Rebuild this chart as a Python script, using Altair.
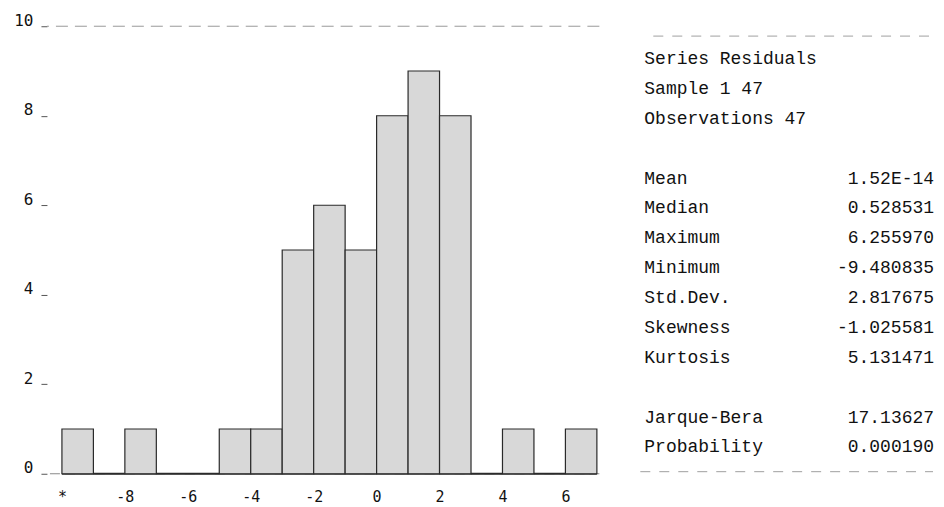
import altair as alt
import pandas as pd

# ---- data ----
bin_start = list(range(-10, 7))
counts = [1, 0, 1, 0, 0, 1, 1, 5, 6, 5, 8, 9, 8, 0, 1, 0, 1]
x_ticks = [-10, -8, -6, -4, -2, 0, 2, 4, 6]
y_ticks = [0, 2, 4, 6, 8, 10]

stat_labels = ["Series Residuals", "Sample 1 47", "Observations 47",
               "Mean", "Median", "Maximum", "Minimum", "Std.Dev.",
               "Skewness", "Kurtosis", "Jarque-Bera", "Probability"]
stat_values = ["", "", "", "1.52E-14", "0.528531", "6.255970", "-9.480835",
               "2.817675", "-1.025581", "5.131471", "17.13627", "0.000190"]
stat_rows = [0, 1, 2, 4, 5, 6, 7, 8, 9, 10, 12, 13]

hist = pd.DataFrame({"start": bin_start,
                     "end": [b + 1 for b in bin_start],
                     "count": counts,
                     "base": [0] * len(bin_start)})

AX_FONT = "DejaVu Sans Mono"
TXT_FONT = "Liberation Mono"

xscale = alt.Scale(domain=[-10.476, 7.079], nice=False, zero=False)
yscale = alt.Scale(domain=[0, 10], nice=False)

bars = alt.Chart(hist).mark_rect(
    fill="#d8d8d8", stroke="#2a2a2a", strokeWidth=1.2
).encode(
    x=alt.X("start:Q", scale=xscale, title=None,
            axis=alt.Axis(values=x_ticks, ticks=False, domain=False, grid=False,
                          labelExpr="datum.value == -10 ? '*' : toString(datum.value)",
                          labelFont=AX_FONT, labelFontSize=15, labelColor="#111",
                          labelPadding=16)),
    x2="end:Q",
    y=alt.Y("count:Q", scale=yscale, title=None,
            axis=alt.Axis(values=y_ticks, domain=False, grid=False,
                          tickSize=6, tickColor="#555", labelPadding=8,
                          labelOffset=-6,
                          labelFont=AX_FONT, labelFontSize=16, labelColor="#111",
                          minExtent=47, maxExtent=47)),
    y2="base:Q",
)

top_rule = alt.Chart(pd.DataFrame({"y": [10]})).mark_rule(
    color="#9a9a9a", strokeDash=[12, 7], strokeWidth=1
).encode(y=alt.Y("y:Q", scale=yscale))

base_rule = alt.Chart(pd.DataFrame({"y": [0]})).mark_rule(
    color="#8a8a8a", strokeDash=[10, 5], strokeWidth=1
).encode(y=alt.Y("y:Q", scale=yscale))

# dark baseline under the bins (empty bins show as a dark line)
base_dark = alt.Chart(pd.DataFrame({"y": [0], "x0": [bin_start[0]], "x1": [bin_start[-1] + 1]})).mark_rule(
    color="#333333", strokeWidth=2
).encode(x=alt.X("x0:Q", scale=xscale), x2="x1:Q", y=alt.Y("y:Q", scale=yscale))

left = alt.layer(top_rule, base_rule, base_dark, bars).properties(width=553, height=448)

# ---- statistics panel ----
stats = pd.DataFrame({"label": stat_labels, "value": stat_values, "row": stat_rows})
rscale = alt.Scale(domain=[-1.10, 13.88], reverse=True, nice=False, zero=False)

lab = alt.Chart(stats).mark_text(
    align="left", baseline="middle", font=TXT_FONT, fontSize=18, color="#111"
).encode(x=alt.value(44), y=alt.Y("row:Q", scale=rscale, axis=None), text="label:N")

val = alt.Chart(stats).mark_text(
    align="right", baseline="middle", font=TXT_FONT, fontSize=18, color="#111"
).encode(x=alt.value(334), y=alt.Y("row:Q", scale=rscale, axis=None), text="value:N")

r_top = alt.Chart(pd.DataFrame({"row": [-0.77]})).mark_rule(
    color="#a0a0a0", strokeDash=[10, 9], strokeWidth=1
).encode(y=alt.Y("row:Q", scale=rscale, axis=None), x=alt.value(53), x2=alt.value(330))

r_bot = alt.Chart(pd.DataFrame({"row": [13.81]})).mark_rule(
    color="#a0a0a0", strokeDash=[10, 9], strokeWidth=1
).encode(y=alt.Y("row:Q", scale=rscale, axis=None), x=alt.value(40), x2=alt.value(333))

right = alt.layer(r_top, r_bot, lab, val).properties(width=344, height=448)

chart = alt.hconcat(left, right, spacing=0).configure(
    padding={"top": 12, "left": 0, "right": 0, "bottom": 0},
    background="white",
).configure_view(stroke=None)

chart.save("out.html", embed_options={"renderer": "svg", "actions": False})
